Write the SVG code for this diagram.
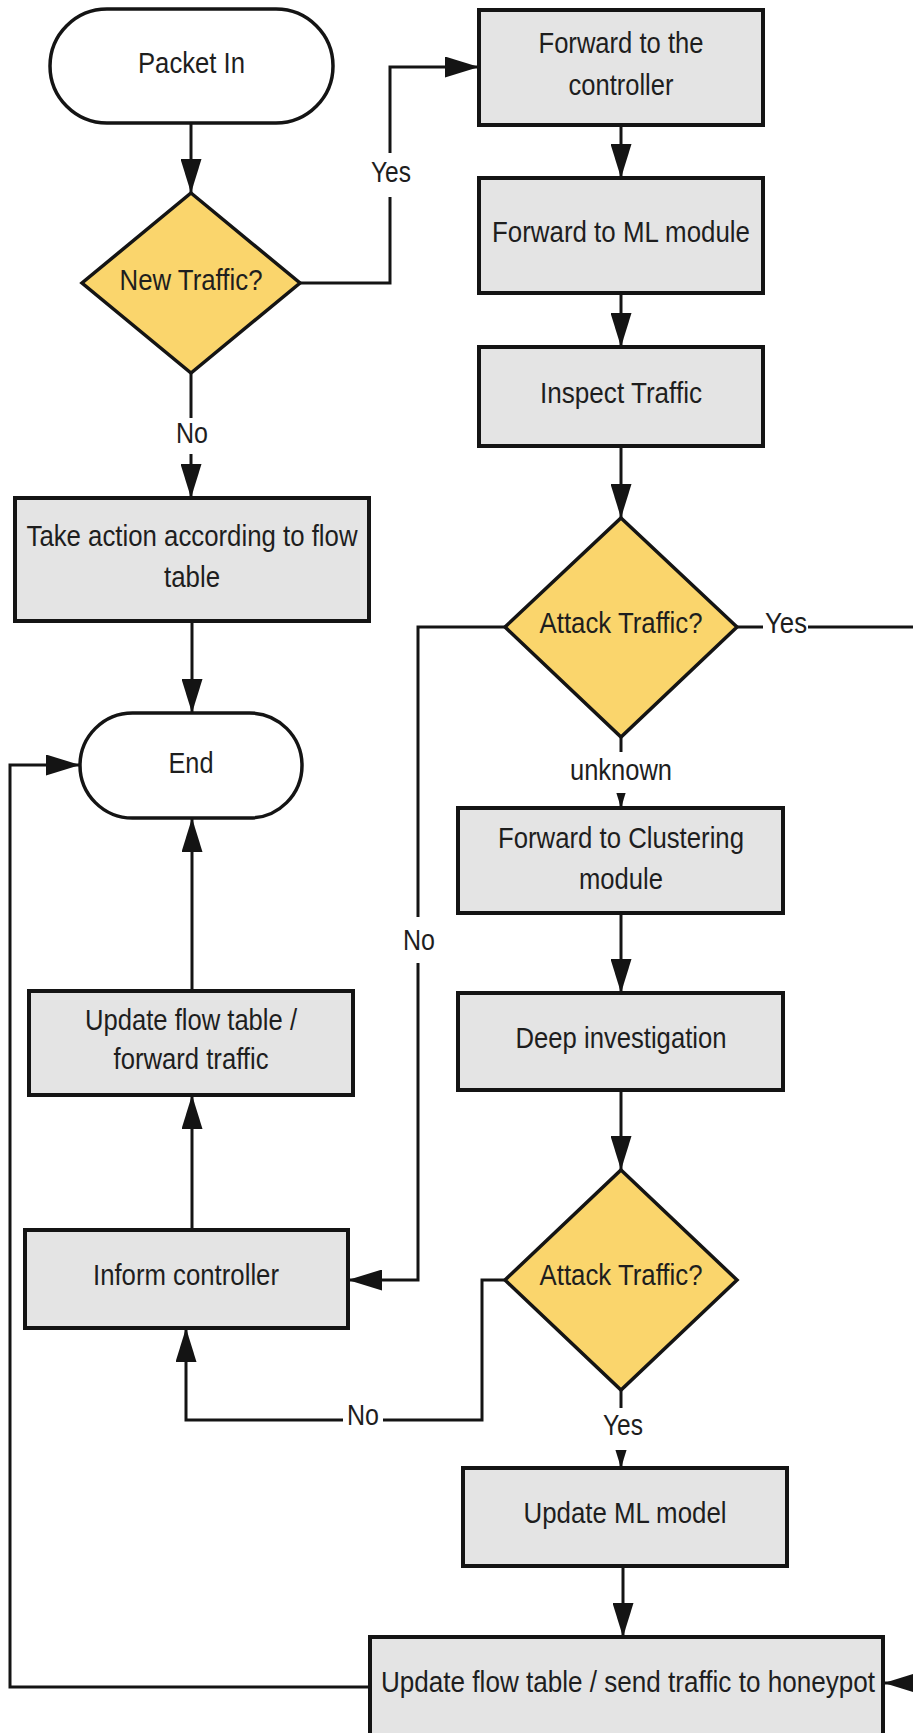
<svg xmlns="http://www.w3.org/2000/svg" width="913" height="1733" viewBox="0 0 913 1733">
<style>
.box{fill:#e4e4e4;stroke:#141414;stroke-width:4}
.term{fill:#fff;stroke:#141414;stroke-width:3.5}
.dec{fill:#fad56c;stroke:#141414;stroke-width:3.5}
.t{font-family:"Liberation Sans",Arial,sans-serif;font-size:29px;fill:#1e1e1e;text-anchor:middle}
.c{fill:none;stroke:#141414;stroke-width:3}
.lb{fill:#fff}
</style>
<defs>
<marker id="ah" markerUnits="userSpaceOnUse" markerWidth="34" markerHeight="21" refX="34" refY="10.5" orient="auto" viewBox="0 0 34 21">
<path d="M0,0 L34,10.5 L0,21 z" fill="#141414"/>
</marker>
</defs>
<rect width="913" height="1733" fill="#fff"/>

<g id="connectors">
<path class="c" d="M191,123 V193" marker-end="url(#ah)"/>
<path class="c" d="M300,283 H390 V67 H479" marker-end="url(#ah)"/>
<path class="c" d="M191,373 V498" marker-end="url(#ah)"/>
<path class="c" d="M192,621 V713" marker-end="url(#ah)"/>
<path class="c" d="M621,125 V178" marker-end="url(#ah)"/>
<path class="c" d="M621,293 V347" marker-end="url(#ah)"/>
<path class="c" d="M621,446 V518" marker-end="url(#ah)"/>
<path class="c" d="M505,627 H418 V1280 H348" marker-end="url(#ah)"/>
<path class="c" d="M737,627 H930 V1683 H884" marker-end="url(#ah)"/>
<path class="c" d="M621,737 V808" marker-end="url(#ah)"/>
<path class="c" d="M621,913 V993" marker-end="url(#ah)"/>
<path class="c" d="M621,1090 V1170" marker-end="url(#ah)"/>
<path class="c" d="M505,1280 H482 V1420 H186 V1328" marker-end="url(#ah)"/>
<path class="c" d="M621,1390 V1468" marker-end="url(#ah)"/>
<path class="c" d="M623,1566 V1637" marker-end="url(#ah)"/>
<path class="c" d="M370,1687 H10 V765 H80" marker-end="url(#ah)"/>
<path class="c" d="M192,1230 V1095" marker-end="url(#ah)"/>
<path class="c" d="M192,991 V818" marker-end="url(#ah)"/>
<rect class="lb" x="369" y="153" width="44" height="44"/>
<text class="t" x="391" y="182" textLength="40" lengthAdjust="spacingAndGlyphs">Yes</text>
<rect class="lb" x="174" y="418" width="36" height="36"/>
<text class="t" x="192" y="443" textLength="32" lengthAdjust="spacingAndGlyphs">No</text>
<rect class="lb" x="400" y="917" width="38" height="46"/>
<text class="t" x="419" y="950" textLength="32" lengthAdjust="spacingAndGlyphs">No</text>
<rect class="lb" x="763" y="607" width="45" height="40"/>
<text class="t" x="786" y="633" textLength="42" lengthAdjust="spacingAndGlyphs">Yes</text>
<rect class="lb" x="567" y="752" width="108" height="41"/>
<text class="t" x="621" y="780" textLength="102" lengthAdjust="spacingAndGlyphs">unknown</text>
<rect class="lb" x="343" y="1400" width="40" height="40"/>
<text class="t" x="363" y="1425" textLength="32" lengthAdjust="spacingAndGlyphs">No</text>
<rect class="lb" x="600" y="1408" width="46" height="42"/>
<text class="t" x="623" y="1435" textLength="40" lengthAdjust="spacingAndGlyphs">Yes</text>
</g>

<g id="packet-in">
<rect class="term" x="50" y="9" width="283" height="114" rx="57" ry="57"/>
<text class="t" x="191.5" y="73" textLength="107" lengthAdjust="spacingAndGlyphs">Packet In</text>
</g>
<g id="new-traffic">
<polygon class="dec" points="191,193 300,283 191,373 82,283"/>
<text class="t" x="191" y="290" textLength="143" lengthAdjust="spacingAndGlyphs">New Traffic?</text>
</g>
<g id="take-action">
<rect class="box" x="15" y="498" width="354" height="123"/>
<text class="t" x="192" y="546" textLength="331" lengthAdjust="spacingAndGlyphs">Take action according to flow</text>
<text class="t" x="192" y="587" textLength="56" lengthAdjust="spacingAndGlyphs">table</text>
</g>
<g id="end">
<rect class="term" x="80" y="713" width="222" height="105" rx="52.5" ry="52.5"/>
<text class="t" x="191" y="773" textLength="45" lengthAdjust="spacingAndGlyphs">End</text>
</g>
<g id="update-flow-forward">
<rect class="box" x="29" y="991" width="324" height="104"/>
<text class="t" x="191" y="1030" textLength="212" lengthAdjust="spacingAndGlyphs">Update flow table /</text>
<text class="t" x="191" y="1069" textLength="155" lengthAdjust="spacingAndGlyphs">forward traffic</text>
</g>
<g id="inform-controller">
<rect class="box" x="25" y="1230" width="323" height="98"/>
<text class="t" x="186" y="1285" textLength="186" lengthAdjust="spacingAndGlyphs">Inform controller</text>
</g>
<g id="forward-controller">
<rect class="box" x="479" y="10" width="284" height="115"/>
<text class="t" x="621" y="53" textLength="165" lengthAdjust="spacingAndGlyphs">Forward to the</text>
<text class="t" x="621" y="95" textLength="105" lengthAdjust="spacingAndGlyphs">controller</text>
</g>
<g id="forward-ml">
<rect class="box" x="479" y="178" width="284" height="115"/>
<text class="t" x="621" y="242" textLength="258" lengthAdjust="spacingAndGlyphs">Forward to ML module</text>
</g>
<g id="inspect-traffic">
<rect class="box" x="479" y="347" width="284" height="99"/>
<text class="t" x="621" y="403" textLength="162" lengthAdjust="spacingAndGlyphs">Inspect Traffic</text>
</g>
<g id="attack-traffic-1">
<polygon class="dec" points="621,518 737,627 621,737 505,627"/>
<text class="t" x="621" y="633" textLength="163" lengthAdjust="spacingAndGlyphs">Attack Traffic?</text>
</g>
<g id="forward-clustering">
<rect class="box" x="458" y="808" width="325" height="105"/>
<text class="t" x="621" y="848" textLength="246" lengthAdjust="spacingAndGlyphs">Forward to Clustering</text>
<text class="t" x="621" y="889" textLength="84" lengthAdjust="spacingAndGlyphs">module</text>
</g>
<g id="deep-investigation">
<rect class="box" x="458" y="993" width="325" height="97"/>
<text class="t" x="621" y="1048" textLength="211" lengthAdjust="spacingAndGlyphs">Deep investigation</text>
</g>
<g id="attack-traffic-2">
<polygon class="dec" points="621,1170 737,1280 621,1390 505,1280"/>
<text class="t" x="621" y="1285" textLength="163" lengthAdjust="spacingAndGlyphs">Attack Traffic?</text>
</g>
<g id="update-ml">
<rect class="box" x="463" y="1468" width="324" height="98"/>
<text class="t" x="625" y="1523" textLength="203" lengthAdjust="spacingAndGlyphs">Update ML model</text>
</g>
<g id="update-honeypot">
<rect class="box" x="370" y="1637" width="513" height="110"/>
<text class="t" x="628" y="1692" textLength="494" lengthAdjust="spacingAndGlyphs">Update flow table / send traffic to honeypot</text>
</g>
</svg>
